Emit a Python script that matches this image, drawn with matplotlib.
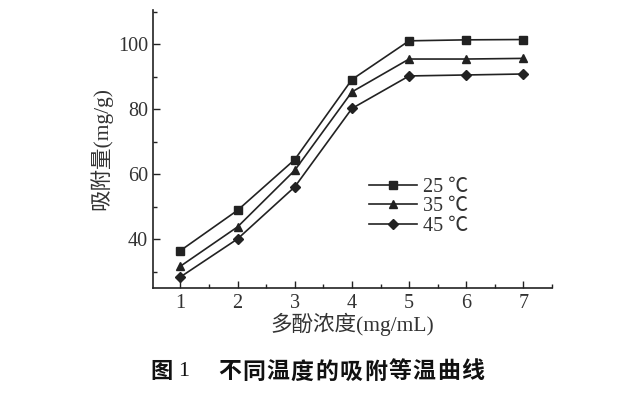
import matplotlib
matplotlib.use("Agg")
import matplotlib.pyplot as plt
from matplotlib.ticker import MultipleLocator

plt.rcParams['font.family'] = ['Liberation Serif', 'Noto Sans CJK SC', 'DejaVu Sans']

# 多酚浓度 (mg/mL)
conc = [1, 2, 3, 4, 5, 6, 7]
# 吸附量 (mg/g)
q_25 = [36.5, 48.9, 64.5, 89.1, 101.0, 101.3, 101.4]
q_35 = [31.7, 43.8, 61.2, 85.3, 95.4, 95.4, 95.6]
q_45 = [28.4, 40.1, 56.1, 80.2, 90.2, 90.5, 90.8]
labels = ['25 ℃', '35 ℃', '45 ℃']

ink = '#222222'
txt = '#333333'

fig = plt.figure(figsize=(6.21, 3.97), dpi=100)
ax = fig.add_axes([0.2464, 0.2746, 0.6425, 0.7004])

ax.plot(conc, q_25, '-s', color=ink, lw=1.2, ms=5.5, label=labels[0])
ax.plot(conc, q_35, '-^', color=ink, lw=1.2, ms=6, label=labels[1])
ax.plot(conc, q_45, '-D', color=ink, lw=1.2, ms=5, label=labels[2])

ax.set_xlim(0.52, 7.5)
ax.set_ylim(25, 110.5)
ax.set_xticks(conc)
ax.set_yticks([40, 60, 80, 100])
ax.xaxis.set_minor_locator(MultipleLocator(0.5))
ax.yaxis.set_minor_locator(MultipleLocator(10))
ax.tick_params(which='both', direction='in', colors=ink, labelcolor=txt,
               labelsize=14.5, width=1.0)
ax.tick_params(which='major', length=5)
ax.tick_params(which='minor', length=3)
ax.tick_params(axis='x', pad=4)
for s in ['top', 'right']:
    ax.spines[s].set_visible(False)
for s in ['left', 'bottom']:
    ax.spines[s].set_color(ink)
    ax.spines[s].set_linewidth(1.2)

ax.set_xlabel('多酚浓度(mg/mL)', fontsize=15.5, color=txt, labelpad=0)
ax.set_ylabel('吸附量(mg/g)', fontsize=15.5, color=txt, labelpad=4)

leg = ax.legend(loc='upper left', bbox_to_anchor=(0.52, 0.425), frameon=False,
                fontsize=14.5, handlelength=2.4, handletextpad=0.3,
                labelspacing=0.02, borderaxespad=0)
for t in leg.get_texts():
    t.set_color(txt)

# 图题
cap_y = 0.063
fig.text(150 / 621, cap_y, '图', ha='left', va='center', fontsize=16,
         fontweight='bold', color='#111111', family='Noto Sans CJK SC')
fig.text(178 / 621, cap_y, '1', ha='left', va='center', fontsize=16,
         color='#111111', family='Liberation Serif')
title = '不同温度的吸附等温曲线'
x0 = 218 / 621
step = 24.3 / 621
for i, ch in enumerate(title):
    fig.text(x0 + i * step, cap_y, ch, ha='left', va='center', fontsize=16.5,
             fontweight='bold', color='#111111', family='Noto Sans CJK SC')

fig.savefig('out.png', dpi=100)
